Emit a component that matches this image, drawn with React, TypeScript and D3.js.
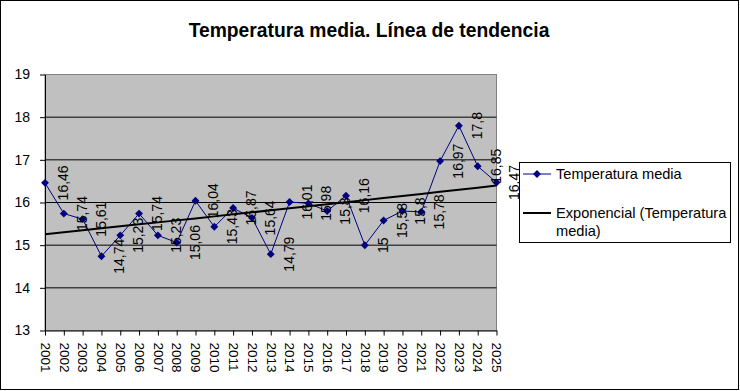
import React, { useEffect, useRef } from "react";
import * as d3 from "d3";

const years = [
  "2001", "2002", "2003", "2004", "2005", "2006", "2007", "2008", "2009",
  "2010", "2011", "2012", "2013", "2014", "2015", "2016", "2017", "2018",
  "2019", "2020", "2021", "2022", "2023", "2024", "2025",
];
const temps = [
  16.46, 15.74, 15.61, 14.74, 15.23, 15.74, 15.23, 15.06, 16.04, 15.43,
  15.87, 15.64, 14.79, 16.01, 15.98, 15.8, 16.16, 15, 15.58, 15.8, 15.78,
  16.97, 17.8, 16.85, 16.47,
];
const yTicks = [13, 14, 15, 16, 17, 18, 19];
const seriesName = "Temperatura media";
const trendName = ["Exponencial (Temperatura", "media)"];
const title = "Temperatura media. Línea de tendencia";

const W = 740;
const H = 391;
const FONT = "Arial, 'Liberation Sans', sans-serif";

function App() {
  const ref = useRef<HTMLDivElement | null>(null);

  useEffect(() => {
    const svg = d3
      .select(ref.current)
      .append("svg")
      .attr("width", W)
      .attr("height", H)
      .style("position", "absolute")
      .style("left", "0px")
      .style("top", "0px")
      .style("font-family", FONT);

    const left = 45,
      right = 496.5,
      top = 74.5,
      bottom = 330.5;

    const x = d3.scalePoint<string>().domain(years).range([left, right]);
    const y = d3.scaleLinear().domain([13, 19]).range([bottom, top]);

    svg.append("rect").attr("width", W).attr("height", H).attr("fill", "white");
    svg
      .append("rect")
      .attr("x", 0.5)
      .attr("y", 0.5)
      .attr("width", W - 2)
      .attr("height", H - 2)
      .attr("fill", "none")
      .attr("stroke", "black");

    // title
    svg
      .append("text")
      .attr("x", 369)
      .attr("y", 37)
      .attr("text-anchor", "middle")
      .attr("font-weight", "bold")
      .attr("font-size", 19.3)
      .text(title);

    // plot area
    svg
      .append("rect")
      .attr("x", left)
      .attr("y", top)
      .attr("width", right - left)
      .attr("height", bottom - top)
      .attr("fill", "#c0c0c0")
      .attr("stroke", "#808080");

    // gridlines
    yTicks
      .filter((t) => t > 13 && t < 19)
      .forEach((t) =>
        svg
          .append("line")
          .attr("x1", left)
          .attr("x2", right)
          .attr("y1", y(t))
          .attr("y2", y(t))
          .attr("stroke", "black")
      );

    // y axis
    const yAxis = svg
      .append("g")
      .attr("transform", `translate(${left},0)`)
      .call(
        d3
          .axisLeft(y)
          .tickValues(yTicks)
          .tickFormat(d3.format("d"))
          .tickSize(5)
          .tickSizeOuter(0)
          .tickPadding(10)
      );
    yAxis.select(".domain").attr("stroke", "black");
    yAxis.selectAll("text").attr("font-size", 14).attr("font-family", FONT).attr("fill", "black");

    // x axis
    const xAxis = svg
      .append("g")
      .attr("transform", `translate(0,${bottom})`)
      .call(d3.axisBottom(x).tickSize(5).tickSizeOuter(0));
    xAxis
      .selectAll("text")
      .attr("font-size", 13.5)
      .attr("font-family", FONT)
      .attr("fill", "black")
      .attr("transform", "rotate(90)")
      .attr("x", 12)
      .attr("y", 0)
      .attr("dy", "0.35em")
      .attr("text-anchor", "start");

    // exponential trend: fit ln(y) = a + b*i
    const idx = temps.map((_, i) => i + 1);
    const lnY = temps.map((v) => Math.log(v));
    const mx = d3.mean(idx) as number;
    const my = d3.mean(lnY) as number;
    const b =
      d3.sum(idx, (v, i) => (v - mx) * (lnY[i] - my)) /
      d3.sum(idx, (v) => (v - mx) * (v - mx));
    const a = my - b * mx;
    const trend = years.map((yr, i) => ({ yr, v: Math.exp(a + b * (i + 1)) }));

    const line = d3
      .line<{ yr: string; v: number }>()
      .x((d) => x(d.yr) as number)
      .y((d) => y(d.v));

    const series = years.map((yr, i) => ({ yr, v: temps[i] }));

    svg
      .append("path")
      .datum(series)
      .attr("d", line)
      .attr("fill", "none")
      .attr("stroke", "#000080")
      .attr("stroke-width", 1);

    const diamond = d3.symbol().type(d3.symbolDiamond2).size(40);
    svg
      .selectAll(".pt")
      .data(series)
      .enter()
      .append("path")
      .attr("d", diamond)
      .attr("transform", (d) => `translate(${x(d.yr)},${y(d.v)})`)
      .attr("fill", "#000080");

    svg
      .append("path")
      .datum(trend)
      .attr("d", line)
      .attr("fill", "none")
      .attr("stroke", "black")
      .attr("stroke-width", 2);

    // data labels
    series.forEach((d) => {
      const lx = (x(d.yr) as number) + 18;
      const ly = y(d.v);
      svg
        .append("text")
        .attr("transform", `translate(${lx},${ly}) rotate(-90)`)
        .attr("text-anchor", "middle")
        .attr("dy", "0.35em")
        .attr("font-size", 14)
        .attr("fill", "black")
        .text(String(d.v).replace(".", ","));
    });

    // legend
    const lg = svg.append("g");
    lg.append("rect")
      .attr("x", 519.5)
      .attr("y", 162.5)
      .attr("width", 211)
      .attr("height", 80)
      .attr("fill", "white")
      .attr("stroke", "black");
    lg.append("line")
      .attr("x1", 523)
      .attr("x2", 551)
      .attr("y1", 174)
      .attr("y2", 174)
      .attr("stroke", "#000080");
    lg.append("path")
      .attr("d", diamond)
      .attr("transform", "translate(537,174)")
      .attr("fill", "#000080");
    lg.append("text")
      .attr("x", 556)
      .attr("y", 174)
      .attr("dy", "0.35em")
      .attr("font-size", 14.6)
      .text(seriesName);
    lg.append("line")
      .attr("x1", 523)
      .attr("x2", 551)
      .attr("y1", 213)
      .attr("y2", 213)
      .attr("stroke", "black")
      .attr("stroke-width", 2);
    trendName.forEach((t, i) =>
      lg
        .append("text")
        .attr("x", 556)
        .attr("y", 213 + i * 18)
        .attr("dy", "0.35em")
        .attr("font-size", 14.6)
        .text(t)
    );

    return () => {
      svg.selectAll("*").remove();
      svg.remove();
    };
  }, []);

  return <div ref={ref} />;
}
export default App;
